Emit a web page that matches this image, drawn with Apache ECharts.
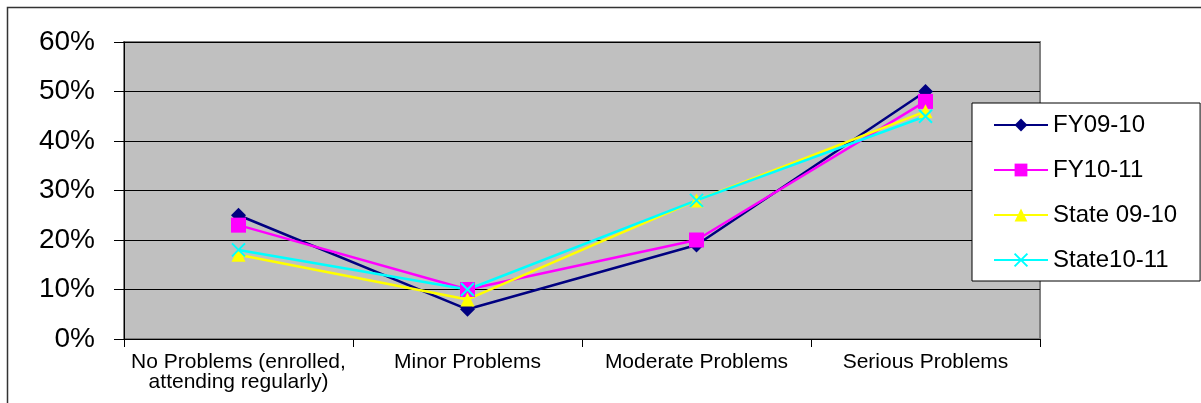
<!DOCTYPE html>
<html>
<head>
<meta charset="utf-8">
<script src="https://cdn.jsdelivr.net/npm/echarts@6/dist/echarts.min.js"></script>
<style>
html,body{margin:0;padding:0;background:#fff;}
#chart{width:1201px;height:403px;}
</style>
</head>
<body>
<div id="chart"></div>
<script>
const categories = ["No Problems (enrolled,\nattending regularly)", "Minor Problems", "Moderate Problems", "Serious Problems"];
const fy0910 = [25, 6, 19, 50];
const fy1011 = [23, 10, 20, 48];
const state0910 = [17, 8, 28, 46];
const state1011 = [18, 10, 28, 45];
const yTicks = [0, 10, 20, 30, 40, 50, 60];

const FONT = '"Liberation Sans", Arial, sans-serif';
const chart = echarts.init(document.getElementById('chart'));

function mk(name, data, color, symbol, size, extra) {
  return Object.assign({
    name: name,
    type: 'line',
    data: data,
    symbol: symbol,
    symbolSize: size,
    lineStyle: { color: color, width: 2.5 },
    itemStyle: { color: color },
    emphasis: { disabled: true },
    animation: false
  }, extra || {});
}

chart.setOption({
  animation: false,
  graphic: [{
    type: 'rect',
    shape: { x: 7.5, y: 7.5, width: 1200, height: 400 },
    style: { fill: 'none', stroke: '#333', lineWidth: 1.5 },
    z: -10
  }],
  grid: {
    left: 124, top: 42, width: 916, height: 297,
    show: true, backgroundColor: '#C0C0C0', borderColor: '#808080', borderWidth: 2
  },
  legend: {
    orient: 'vertical',
    left: 972, top: 103,
    padding: [10, 23, 9, 21],
    itemWidth: 54, itemHeight: 16, itemGap: 21,
    backgroundColor: '#fff', borderColor: '#000', borderWidth: 1,
    textStyle: { fontFamily: FONT, fontSize: 24, color: '#000', lineHeight: 24, padding: [0,0,0,0] },
    data: ['FY09-10', 'FY10-11', 'State 09-10', 'State10-11']
  },
  xAxis: {
    type: 'category',
    data: categories,
    boundaryGap: true,
    axisLine: { lineStyle: { color: '#000', width: 1 } },
    axisTick: { show: true, length: 8, lineStyle: { color: '#000' } },
    axisLabel: { fontFamily: FONT, fontSize: 21, color: '#000', margin: 13, lineHeight: 20, interval: 0 },
    splitLine: { show: false }
  },
  yAxis: {
    type: 'value',
    min: yTicks[0], max: yTicks[yTicks.length - 1], interval: 10,
    axisLine: { show: true, lineStyle: { color: '#000', width: 1 } },
    axisTick: { show: true, length: 10, lineStyle: { color: '#000' } },
    axisLabel: { fontFamily: FONT, fontSize: 28, color: '#000', margin: 29, formatter: '{value}%' },
    splitLine: { show: true, lineStyle: { color: '#000', width: 1 } }
  },
  series: [
    mk('FY09-10', fy0910, '#000080', 'diamond', 15),
    mk('FY10-11', fy1011, '#FF00FF', 'rect', 15),
    mk('State 09-10', state0910, '#FFFF00', 'triangle', 14),
    mk('State10-11', state1011, '#00FFFF', 'path://M0,0L10,10M10,0L0,10', 13, {
      itemStyle: { color: 'rgba(0,0,0,0)', borderColor: '#00FFFF', borderWidth: 2 }
    })
  ]
});
</script>
</body>
</html>
